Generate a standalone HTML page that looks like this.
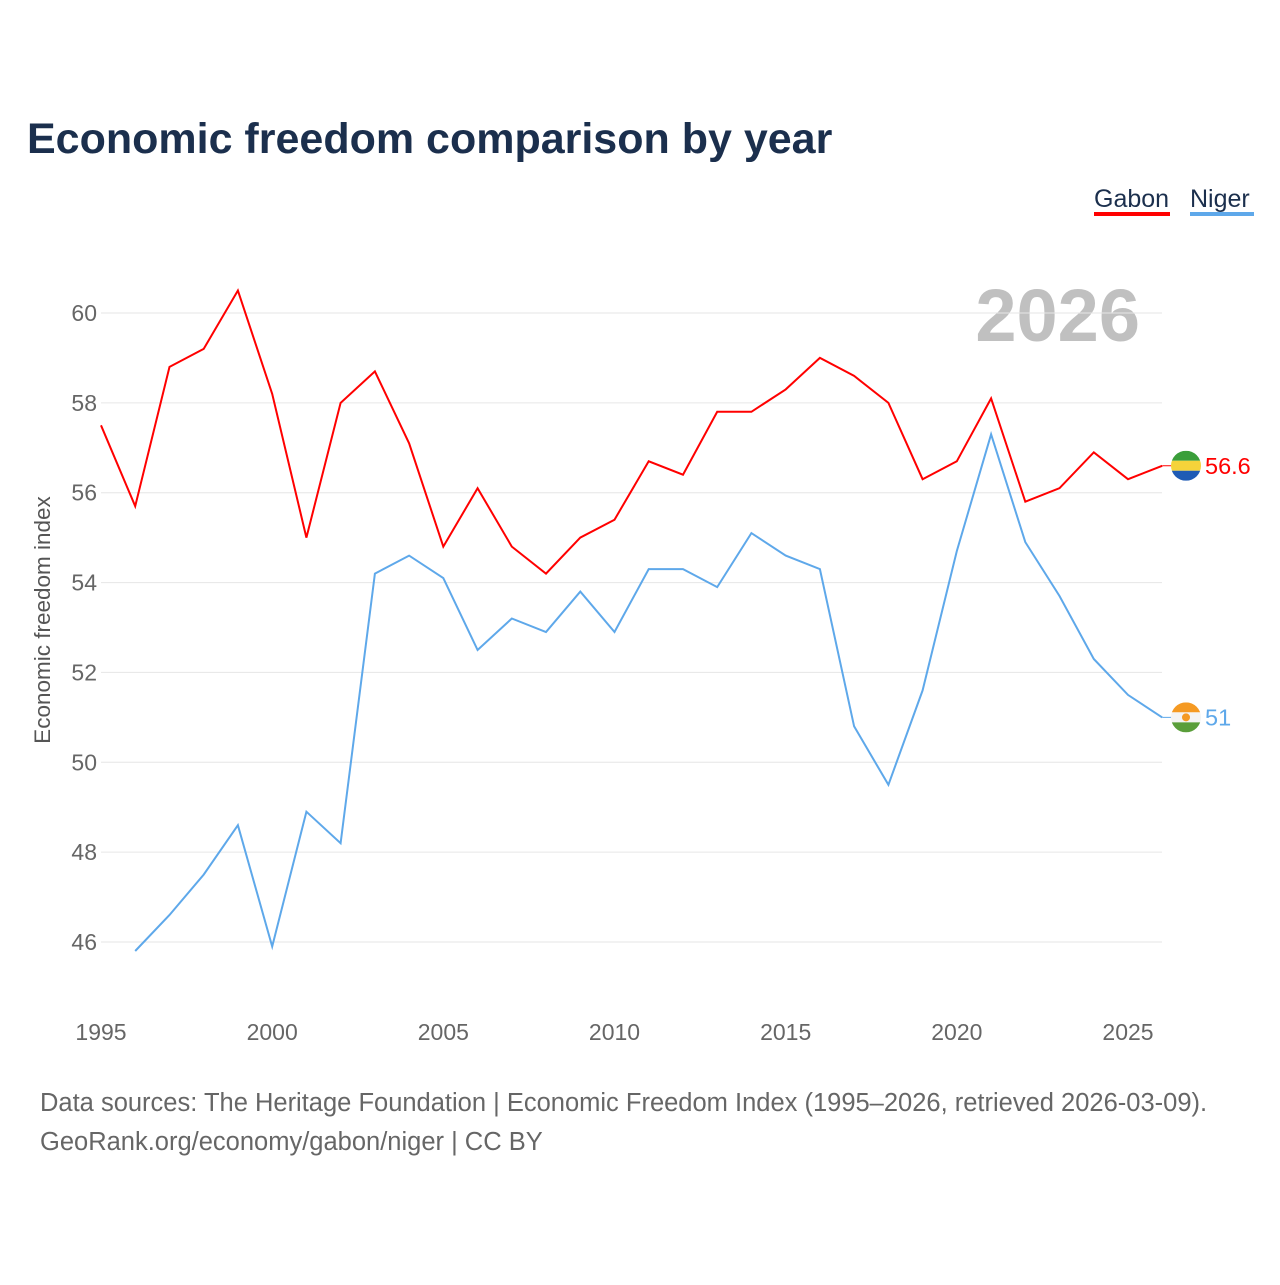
<!DOCTYPE html>
<html><head><meta charset="utf-8"><style>
body{margin:0;background:#fff;font-family:"Liberation Sans",sans-serif;}
svg text{font-family:"Liberation Sans",sans-serif;}
</style></head><body>
<svg width="1280" height="1280" viewBox="0 0 1280 1280" id="c">
<rect width="1280" height="1280" fill="#fff"/>
<text x="27" y="153" font-size="43" font-weight="bold" fill="#1b2f4d">Economic freedom comparison by year</text>
<g><text x="1094" y="207" font-size="25" fill="#1b2f4d">Gabon</text><rect x="1094" y="212" width="76" height="4" fill="#f00"/></g>
<g><text x="1190" y="207" font-size="25" fill="#1b2f4d">Niger</text><rect x="1190" y="212" width="64" height="4" fill="#5ea8ea"/></g>
<text x="1140" y="341" font-size="74" font-weight="bold" fill="#c0c0c0" text-anchor="end">2026</text>
<text transform="translate(50,620) rotate(-90)" font-size="22.5" fill="#555" text-anchor="middle">Economic freedom index</text>
<g id="grid"></g><g id="lines"></g>
<text x="40" y="1111" font-size="25.5" fill="#666">Data sources: The Heritage Foundation | Economic Freedom Index (1995–2026, retrieved 2026-03-09).</text>
<text x="40" y="1150" font-size="25.5" fill="#666">GeoRank.org/economy/gabon/niger | CC BY</text>
</svg>
<script>
const years=[1995,1996,1997,1998,1999,2000,2001,2002,2003,2004,2005,2006,2007,2008,2009,2010,2011,2012,2013,2014,2015,2016,2017,2018,2019,2020,2021,2022,2023,2024,2025,2026];
const gabon=[57.5,55.7,58.8,59.2,60.5,58.2,55.0,58.0,58.7,57.1,54.8,56.1,54.8,54.2,55.0,55.4,56.7,56.4,57.8,57.8,58.3,59.0,58.6,58.0,56.3,56.7,58.1,55.8,56.1,56.9,56.3,56.6];
const niger=[null,45.8,46.6,47.5,48.6,45.9,48.9,48.2,54.2,54.6,54.1,52.5,53.2,52.9,53.8,52.9,54.3,54.3,53.9,55.1,54.6,54.3,50.8,49.5,51.6,54.7,57.3,54.9,53.7,52.3,51.5,51.0];
const yTicks=[46,48,50,52,54,56,58,60];
const xTicks=[1995,2000,2005,2010,2015,2020,2025];
const NS='http://www.w3.org/2000/svg';
const x=v=>101+(v-1995)*(1027/30);
const y=v=>313+(60-v)*(629/14);
function mk(t,a,p){const e=document.createElementNS(NS,t);for(const k in a)e.setAttribute(k,a[k]);p.appendChild(e);return e;}
const g=document.getElementById('grid'),L=document.getElementById('lines');
yTicks.forEach(v=>{
 const l=mk('line',{x1:101,x2:1162,y1:y(v),y2:y(v),stroke:'#e6e6e6','stroke-width':1},g);
 
 
 const t=mk('text',{x:97,y:y(v)+8,'font-size':23,fill:'#666','text-anchor':'end'},g);t.textContent=v;
 
 
});
xTicks.forEach(v=>{
 const t=mk('text',{x:x(v),y:1040,'font-size':23,fill:'#666','text-anchor':'middle'},g);t.textContent=v;
 
 
});
function line(arr,col,name){
 let d='';arr.forEach((v,i)=>{if(v==null)return;d+=(d?'L':'M')+x(years[i]).toFixed(1)+','+y(v).toFixed(1);});
 const p=mk('path',{d:d,fill:'none',stroke:col,'stroke-width':2},L);
 
 
 const lv=arr[arr.length-1],cy=y(lv),cx=1186;
 const f=mk('g',{},L);
 
 
 mk('line',{x1:x(2026),x2:cx,y1:cy,y2:cy,stroke:col,'stroke-width':1},f);
 mk('clipPath',{id:'cp'+name},f).appendChild(mk('circle',{cx:cx,cy:cy,r:15},f));
 const cols=name=='gabon'?['#3a9e3a','#f5d33a','#1f5bb5']:['#f59a23','#f4f4f4','#5a9e3a'];
 cols.forEach((c,i)=>mk('rect',{x:cx-15,y:cy-15+i*10,width:30,height:10,fill:c,'clip-path':'url(#cp'+name+')'},f));
 if(name=='niger')mk('circle',{cx:cx,cy:cy,r:4,fill:'#f59a23'},f);
 const t=mk('text',{x:1205,y:cy+8,'font-size':23.5,fill:col},L);t.textContent=lv;
 
 
}
line(gabon,'#f00','gabon');
line(niger,'#5ea8ea','niger');
</script>
</body></html>
